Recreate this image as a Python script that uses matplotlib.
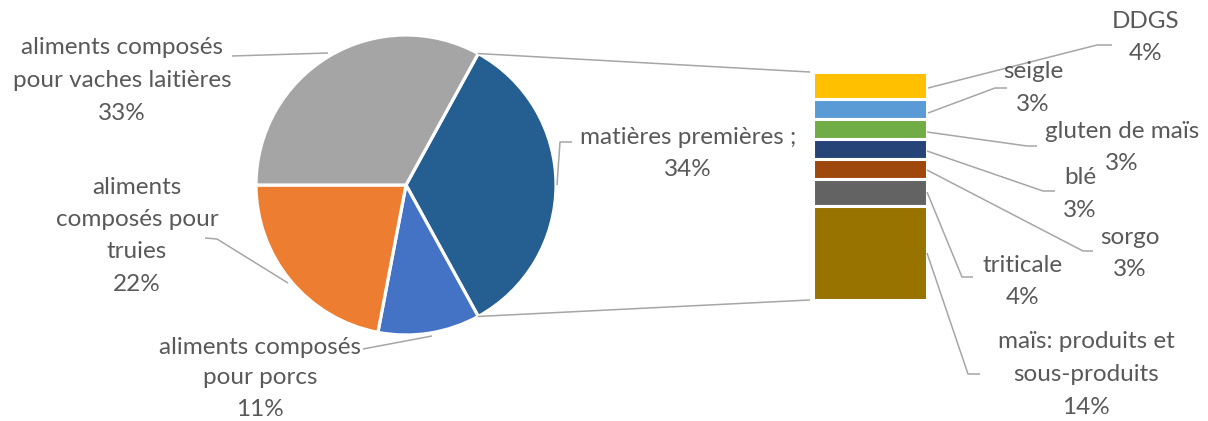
import matplotlib
matplotlib.use("Agg")
import matplotlib.pyplot as plt
from matplotlib.patches import ConnectionPatch
import numpy as np

# ---- data ----
pie_labels = ["matières premières ;", "aliments composés\npour porcs",
              "aliments\ncomposés pour\ntruies", "aliments composés\npour vaches laitières"]
pie_values = [34, 11, 22, 33]
pie_colors = ["#255E91", "#4472C4", "#ED7D31", "#A5A5A5"]

bar_labels = ["DDGS", "seigle", "gluten de maïs", "blé", "sorgo", "triticale",
              "maïs: produits et\nsous-produits"]
bar_values = [4, 3, 3, 3, 3, 4, 14]
bar_colors = ["#FFC000", "#5B9BD5", "#70AD47", "#264478", "#9E480E", "#636363", "#997300"]

W, H = 1208, 421
fig = plt.figure(figsize=(W / 100, H / 100), dpi=100)
FONT = "Lato"
TXT = "#595959"
LINE = "#A6A6A6"

# ---- pie ----
cx, cy, r = 406, 185, 150
ax_pie = fig.add_axes([(cx - r) / W, (H - cy - r) / H, 2 * r / W, 2 * r / H])
start = pie_values[0] / sum(pie_values) * 360 / 2
ax_pie.pie(pie_values, colors=pie_colors, startangle=start, counterclock=False,
           radius=1, wedgeprops=dict(edgecolor="white", linewidth=2.3))
ax_pie.set_xlim(-1, 1)
ax_pie.set_ylim(-1, 1)
ax_pie.axis("off")

# ---- stacked bar ----
bx0, bx1, by0, by1 = 813, 927, 72, 300
ax_bar = fig.add_axes([bx0 / W, (H - by1) / H, (bx1 - bx0) / W, (by1 - by0) / H])
bottom = sum(bar_values)
for v, c in zip(bar_values, bar_colors):
    bottom -= v
    ax_bar.bar(0, v, bottom=bottom, width=1, color=c, edgecolor="white", linewidth=2.2)
ax_bar.set_xlim(-0.5, 0.5)
ax_bar.set_ylim(0, sum(bar_values))
ax_bar.axis("off")

# connector lines pie -> bar
th = np.deg2rad(start)
for sgn, yb in [(1, sum(bar_values)), (-1, 0)]:
    con = ConnectionPatch(xyA=(np.cos(th), sgn * np.sin(th)), coordsA=ax_pie.transData,
                          xyB=(-0.53, yb), coordsB=ax_bar.transData,
                          color=LINE, lw=1.1)
    fig.add_artist(con)

# ---- overlay for labels ----
ax = fig.add_axes([0, 0, 1, 1])
ax.set_xlim(0, W)
ax.set_ylim(H, 0)
ax.axis("off")
ax.patch.set_alpha(0)

STEP = 32.5
FS = 17.5


def label(x, y0, lines, step=STEP):
    for i, s in enumerate(lines):
        ax.text(x, y0 + i * step, s, ha="center", va="center", fontsize=FS,
                color=TXT, family=FONT)


def leader(pts):
    xs, ys = zip(*pts)
    ax.plot(xs, ys, color=LINE, lw=1.1, solid_capstyle="butt")


pct = lambda v: f"{v}%"

# pie labels
label(688, 137, [pie_labels[0], pct(pie_values[0])])
leader([(572, 142), (560, 142), (557, 185)])

label(260, 347, pie_labels[1].split("\n") + [pct(pie_values[1])], step=31)
leader([(363, 349), (432, 336)])

label(137, 187, pie_labels[2].split("\n") + [pct(pie_values[2])])
leader([(205, 238), (217, 239), (288, 283)])

label(122, 48, pie_labels[3].split("\n") + [pct(pie_values[3])])
leader([(232, 56), (328, 53)])

# bar labels
bar_text_pos = [(1146, 21), (1033, 72), (1122, 131), (1080, 178), (1130, 237),
                (1023, 265), (1086, 342)]
bar_leaders = [
    [(928, 88), (1097, 45), (1112, 45)],
    [(928, 113), (995, 88), (1007, 88)],
    [(927, 132), (1027, 146), (1037, 146)],
    [(927, 151), (1043, 191), (1055, 191)],
    [(927, 170), (1083, 251), (1093, 251)],
    [(927, 192), (962, 277), (973, 277)],
    [(927, 253), (968, 374), (980, 374)],
]
for lab, v, (x, y), pts in zip(bar_labels, bar_values, bar_text_pos, bar_leaders):
    label(x, y, lab.split("\n") + [pct(v)])
    leader(pts)

fig.savefig("out.png", dpi=100)
